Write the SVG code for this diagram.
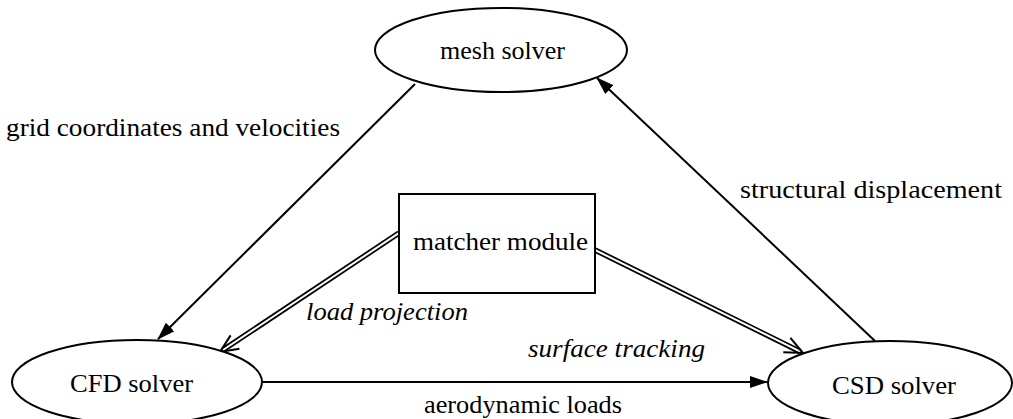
<svg xmlns="http://www.w3.org/2000/svg" width="1013" height="419" viewBox="0 0 1013 419">
<style>
.node{fill:#fff;stroke:#000;stroke-width:2}
.lbl{font-family:"Liberation Serif","Times New Roman",serif;font-size:26px;fill:#000}
.it{font-style:italic}
.edge{stroke:#000;stroke-width:2;fill:none}
.dbl{stroke:#000;stroke-width:5.5;fill:none}
.dbli{stroke:#fff;stroke-width:2;fill:none}
</style>
<defs>
<marker id="ah" viewBox="0 0 18 12" refX="17" refY="6" markerWidth="18" markerHeight="12" markerUnits="userSpaceOnUse" orient="auto">
<path d="M0,0 L18,6 L0,12 Z" fill="#000"/>
</marker>
</defs>
<rect width="1013" height="419" fill="#fff"/>
<g id="connectors">
<line class="edge" x1="415" y1="84" x2="158" y2="339" marker-end="url(#ah)"/>
<line class="edge" x1="875" y1="341" x2="597" y2="78" marker-end="url(#ah)"/>
<line class="edge" x1="263" y1="382" x2="767" y2="382" marker-end="url(#ah)"/>
<line class="dbl" x1="399" y1="233" x2="222.5" y2="350.3"/>
<line class="dbli" x1="401" y1="231.7" x2="223" y2="350"/>
<path class="edge" d="M239.4,348.7 L220,352 L230.6,335.4"/>
<line class="dbl" x1="595" y1="250" x2="800.3" y2="351.7"/>
<line class="dbli" x1="593" y1="249" x2="800.8" y2="351.9"/>
<path class="edge" d="M790.4,337.8 L803,353 L783.3,352.2"/>
</g>
<g id="mesh-solver">
<ellipse class="node" cx="501" cy="50" rx="126" ry="42"/>
<text class="lbl" x="440" y="59" textLength="125" lengthAdjust="spacingAndGlyphs">mesh solver</text>
</g>
<g id="cfd-solver">
<ellipse class="node" cx="137" cy="382" rx="125" ry="42"/>
<text class="lbl" x="70" y="392" textLength="123" lengthAdjust="spacingAndGlyphs">CFD solver</text>
</g>
<g id="csd-solver">
<ellipse class="node" cx="890" cy="383" rx="122" ry="42"/>
<text class="lbl" x="832" y="394" textLength="124" lengthAdjust="spacingAndGlyphs">CSD solver</text>
</g>
<g id="matcher-module">
<rect class="node" x="399" y="194" width="196" height="99"/>
<text class="lbl" x="413" y="250" textLength="175" lengthAdjust="spacingAndGlyphs">matcher module</text>
</g>
<g id="labels">
<text class="lbl" x="6" y="136" textLength="334" lengthAdjust="spacingAndGlyphs">grid coordinates and velocities</text>
<text class="lbl" x="740" y="198" textLength="262" lengthAdjust="spacingAndGlyphs">structural displacement</text>
<text class="lbl it" x="306" y="320" textLength="162" lengthAdjust="spacingAndGlyphs">load projection</text>
<text class="lbl it" x="528" y="357" textLength="177" lengthAdjust="spacingAndGlyphs">surface tracking</text>
<text class="lbl" x="424" y="413" textLength="198" lengthAdjust="spacingAndGlyphs">aerodynamic loads</text>
</g>
</svg>
